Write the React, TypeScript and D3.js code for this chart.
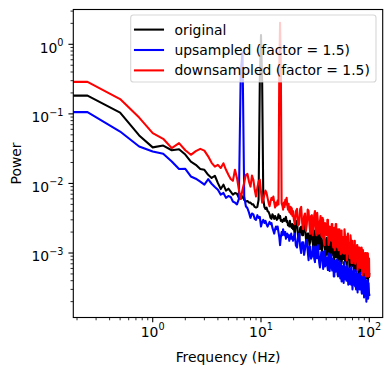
import React from "react";
import * as d3 from "d3";

// Frequency grid (Hz)
const FREQ_LOW = [
  0, 0.25, 0.5, 0.75, 1, 1.25, 1.5, 1.75, 2, 2.25, 2.5, 2.75, 3, 3.25, 3.5, 3.75,
  4, 4.25, 4.5, 4.75, 5, 5.25, 5.5, 5.75, 6, 6.25, 6.5, 6.75, 7, 7.25, 7.5, 7.75,
  8, 8.25, 8.5, 8.75, 9, 9.25, 9.5, 9.75, 10, 10.25, 10.5, 10.75, 11, 11.25, 11.5, 11.75,
  12, 12.25, 12.5, 12.75, 13, 13.25, 13.5, 13.75, 14, 14.25, 14.5, 14.75, 15, 15.25, 15.5, 15.75,
  16, 16.25, 16.5, 16.75, 17, 17.25, 17.5, 17.75, 18, 18.25, 18.5, 18.75, 19, 19.25, 19.5, 19.75, 20,
];
const FREQ_HIGH = [
  21, 22, 23, 24, 25, 26, 27, 28, 29, 30, 31, 32, 33, 34, 35, 36, 37, 38, 39, 40,
  41, 42, 43, 44, 45, 46, 47, 48, 49, 50, 51, 52, 53, 54, 55, 56, 57, 58, 59, 60,
  61, 62, 63, 64, 65, 66, 67, 68, 69, 70, 71, 72, 73, 74, 75, 76, 77, 78, 79, 80,
  81, 82, 83, 84, 85, 86, 87, 88, 89, 90, 91, 92, 93, 94, 95, 96, 97, 98, 99, 100,
];
const FREQ_HALF = [
  20.5, 21.5, 22.5, 23.5, 24.5, 25.5, 26.5, 27.5, 28.5, 29.5, 30.5, 31.5, 32.5, 33.5, 34.5, 35.5, 36.5, 37.5, 38.5, 39.5,
  40.5, 41.5, 42.5, 43.5, 44.5, 45.5, 46.5, 47.5, 48.5, 49.5, 50.5, 51.5, 52.5, 53.5, 54.5, 55.5, 56.5, 57.5, 58.5, 59.5,
  60.5, 61.5, 62.5, 63.5, 64.5, 65.5, 66.5, 67.5, 68.5, 69.5, 70.5, 71.5, 72.5, 73.5, 74.5, 75.5, 76.5, 77.5, 78.5, 79.5,
  80.5, 81.5, 82.5, 83.5, 84.5, 85.5, 86.5, 87.5, 88.5, 89.5, 90.5, 91.5, 92.5, 93.5, 94.5, 95.5, 96.5, 97.5, 98.5, 99.5,
];

// original
const ORIGINAL_LOW = [
  0.183, 0.183, 0.104, 0.049, 0.033, 0.035, 0.030, 0.031, 0.026, 0.0206, 0.0185, 0.0161, 0.0157, 0.0133, 0.0120, 0.0129,
  0.0101, 0.0083, 0.0096, 0.0079, 0.0084, 0.0076, 0.0069, 0.0073, 0.0071, 0.0062, 0.0060, 0.0065, 0.0058, 0.0055, 0.0056, 0.0053,
  0.0053, 0.0050, 0.0050, 0.0046, 0.0045, 0.0046, 0.0058, 0.30, 1.36, 0.30, 0.0060, 0.0046, 0.0043, 0.0045, 0.0040, 0.0039,
  0.0036, 0.0032, 0.0031, 0.0036, 0.0034, 0.0031, 0.0034, 0.0032, 0.0030, 0.0031, 0.0036, 0.0032, 0.0034, 0.0029, 0.0030, 0.0028,
  0.0029, 0.0031, 0.0029, 0.0031, 0.0033, 0.0028, 0.0029, 0.0025, 0.0026, 0.0024, 0.0029, 0.0024, 0.0026, 0.0023, 0.0026, 0.0022, 0.0025,
];
const ORIGINAL_HIGH = [
  0.0027, 0.0017, 0.0023, 0.0018, 0.0025, 0.0016, 0.0019, 0.0013, 0.0020, 0.00145, 0.0021, 0.00124, 0.00152, 0.00186, 0.00114, 0.00156, 0.00124, 0.00175, 0.00111, 0.00134,
  0.00095, 0.00149, 0.00115, 0.00161, 0.00094, 0.00127, 0.00079, 0.00129, 0.00099, 0.00135, 0.00085, 0.00105, 0.00134, 0.00076, 0.0011, 0.00084, 0.00118, 0.00087, 0.00134, 0.00076,
  0.00099, 0.00064, 0.00105, 0.00081, 0.00111, 0.00074, 0.00095, 0.00064, 0.00108, 0.00074, 0.00097, 0.00064, 0.00082, 0.00054, 0.00103, 0.00063, 0.0008, 0.00065, 0.00089, 0.00056,
  0.00069, 0.00088, 0.0005, 0.00073, 0.00055, 0.00077, 0.00057, 0.00081, 0.00049, 0.00063, 0.00044, 0.0007, 0.00051, 0.00064, 0.00044, 0.00059, 0.00045, 0.00062, 0.00046, 0.0005,
];
const ORIGINAL_HALF = [
  0.0018, 0.0029, 0.0015, 0.0024, 0.0018, 0.0026, 0.0014, 0.0019, 0.00145, 0.0021, 0.0011, 0.0018, 0.002, 0.0012, 0.0014, 0.0019, 0.00105, 0.00143, 0.0016, 0.00091,
  0.00165, 0.00106, 0.00134, 0.0009, 0.00165, 0.00104, 0.00131, 0.00078, 0.00139, 0.00087, 0.00112, 0.00143, 0.00078, 0.00122, 0.0009, 0.0007, 0.00127, 0.00082, 0.0011, 0.00076,
  0.00132, 0.0007, 0.00101, 0.00081, 0.00111, 0.00062, 0.00103, 0.00072, 0.00084, 0.00112, 0.00065, 0.00092, 0.00055, 0.00101, 0.00068, 0.00083, 0.00056, 0.0009, 0.0006, 0.00084,
  0.00048, 0.00071, 0.0009, 0.00053, 0.00075, 0.00058, 0.00082, 0.00047, 0.00067, 0.00051, 0.00074, 0.00041, 0.00068, 0.0005, 0.00058, 0.00043, 0.00069, 0.00039, 0.00059, 0.00045,
];

// upsampled (factor = 1.5)
const UPSAMPLED_LOW = [
  0.106, 0.106, 0.0557, 0.034, 0.0288, 0.0267, 0.0207, 0.0161, 0.0162, 0.0126, 0.0117, 0.0106, 0.0096, 0.0115, 0.0099, 0.0089,
  0.0081, 0.0069, 0.0073, 0.0062, 0.0066, 0.0064, 0.0055, 0.0053, 0.0050, 0.0060, 0.40, 0.76, 0.0065, 0.0047, 0.0044, 0.0038,
  0.0032, 0.0037, 0.0036, 0.0031, 0.0030, 0.0035, 0.0032, 0.0033, 0.0024, 0.0028, 0.0030, 0.0027, 0.0029, 0.0026, 0.0024, 0.0026,
  0.0028, 0.0026, 0.0027, 0.0023, 0.0021, 0.0019, 0.0022, 0.0024, 0.0022, 0.0024, 0.0020, 0.0017, 0.0013, 0.0017, 0.0020, 0.0018,
  0.0022, 0.0019, 0.0018, 0.0020, 0.0016, 0.0018, 0.0019, 0.0017, 0.0018, 0.0015, 0.0018, 0.0016, 0.0019, 0.0016, 0.0017, 0.0015, 0.0017,
];
const UPSAMPLED_HIGH = [
  0.00128, 0.00172, 0.00123, 0.00143, 0.00094, 0.00149, 0.00107, 0.00124, 0.00083, 0.00105, 0.00083, 0.00124, 0.00084, 0.00099, 0.00062, 0.00103, 0.0008, 0.00103, 0.00064, 0.00086,
  0.00065, 0.00098, 0.00055, 0.00075, 0.00063, 0.00082, 0.00046, 0.00072, 0.00054, 0.00078, 0.00049, 0.0006, 0.00077, 0.00043, 0.00062, 0.0005, 0.00065, 0.00037, 0.00055, 0.00043,
  0.00063, 0.00044, 0.00055, 0.00035, 0.00052, 0.00039, 0.00059, 0.00035, 0.00046, 0.0003, 0.0005, 0.00038, 0.00045, 0.00033, 0.0005, 0.00034, 0.00041, 0.00027, 0.00044, 0.00034,
  0.00044, 0.0003, 0.00037, 0.00047, 0.00027, 0.0004, 0.0003, 0.00042, 0.00032, 0.00025, 0.00039, 0.00027, 0.00037, 0.0002, 0.00035, 0.00028, 0.00038, 0.00024, 0.00031, 0.00025,
];
const UPSAMPLED_HALF = [
  0.0019, 0.0012, 0.0019, 0.001, 0.00143, 0.00113, 0.00155, 0.00079, 0.00124, 0.00088, 0.00125, 0.00074, 0.001, 0.0013, 0.00072, 0.00079, 0.00103, 0.00059, 0.00107, 0.00068,
  0.00086, 0.00057, 0.00094, 0.00066, 0.00096, 0.00056, 0.00078, 0.00046, 0.00078, 0.00057, 0.00081, 0.00046, 0.00063, 0.0005, 0.00071, 0.00039, 0.00063, 0.00049, 0.00074, 0.00042,
  0.00058, 0.0004, 0.00066, 0.00043, 0.0006, 0.00036, 0.00052, 0.00044, 0.00064, 0.00038, 0.00054, 0.00035, 0.00057, 0.00038, 0.0005, 0.0003, 0.00056, 0.00038, 0.0005, 0.00033,
  0.00043, 0.0003, 0.00052, 0.00034, 0.00043, 0.00026, 0.00046, 0.00033, 0.0004, 0.00023, 0.00045, 0.00028, 0.00041, 0.00025, 0.00036, 0.00028, 0.00041, 0.00022, 0.00037, 0.00025,
];

// downsampled (factor = 1.5)
const DOWNSAMPLED_LOW = [
  0.288, 0.288, 0.163, 0.0885, 0.0529, 0.0438, 0.0322, 0.038, 0.030, 0.0258, 0.0292, 0.0314, 0.0296, 0.0245, 0.0198, 0.0174,
  0.0185, 0.0167, 0.0195, 0.0157, 0.0133, 0.0116, 0.0109, 0.0157, 0.0120, 0.0081, 0.0060, 0.0081, 0.0103, 0.0133, 0.0137, 0.0106,
  0.0090, 0.0130, 0.0113, 0.0081, 0.0065, 0.0087, 0.0106, 0.0113, 0.0076, 0.0053, 0.0058, 0.0069, 0.0079, 0.0073, 0.0062, 0.0053,
  0.0047, 0.0055, 0.0062, 0.0058, 0.0065, 0.0053, 0.0045, 0.0053, 0.0048, 0.0057, 0.0050, 0.45, 2.04, 0.45, 0.0052, 0.0048,
  0.0042, 0.0053, 0.0046, 0.0058, 0.0050, 0.0062, 0.0048, 0.0042, 0.0051, 0.0039, 0.0038, 0.0046, 0.0036, 0.0044, 0.0034, 0.0040, 0.0032,
];
const DOWNSAMPLED_HIGH = [
  0.004, 0.0025, 0.0043, 0.0027, 0.0034, 0.0021, 0.0042, 0.0026, 0.0034, 0.0018, 0.0035, 0.0022, 0.0038, 0.0019, 0.0028, 0.0018, 0.0032, 0.0015, 0.0027, 0.0019,
  0.003, 0.0013, 0.0024, 0.0016, 0.0026, 0.0014, 0.002, 0.0011, 0.0026, 0.0014, 0.002, 0.0011, 0.0022, 0.0014, 0.002, 0.001, 0.0017, 0.0011, 0.0022, 0.001,
  0.0017, 0.00078, 0.0018, 0.0011, 0.0014, 0.00084, 0.0018, 0.00096, 0.0014, 0.00072, 0.0012, 0.00082, 0.0015, 0.0007, 0.0012, 0.00085, 0.0013, 0.00057, 0.0011, 0.00073,
  0.0012, 0.00061, 0.0011, 0.00071, 0.0012, 0.00052, 0.00095, 0.00062, 0.001, 0.00053, 0.00081, 0.00054, 0.001, 0.00046, 0.00083, 0.00054, 0.00099, 0.00046, 0.0007, 0.00047,
];
const DOWNSAMPLED_HALF = [
  0.0026, 0.0043, 0.0026, 0.0046, 0.0022, 0.0037, 0.0026, 0.004, 0.0019, 0.0035, 0.0024, 0.004, 0.0018, 0.0029, 0.002, 0.0034, 0.0017, 0.003, 0.0013, 0.0026,
  0.0018, 0.003, 0.0014, 0.0022, 0.0015, 0.0026, 0.0012, 0.0023, 0.0016, 0.0026, 0.0012, 0.0022, 0.0012, 0.0019, 0.00096, 0.0021, 0.0013, 0.0017, 0.00098, 0.0019,
  0.0011, 0.0017, 0.00085, 0.0019, 0.00098, 0.0013, 0.0011, 0.0016, 0.00072, 0.0015, 0.00088, 0.0013, 0.00077, 0.0015, 0.00075, 0.0012, 0.00085, 0.0013, 0.00062, 0.0012,
  0.00082, 0.0012, 0.00061, 0.001, 0.00067, 0.0011, 0.00048, 0.0011, 0.00058, 0.00084, 0.00064, 0.001, 0.00047, 0.00089, 0.00056, 0.001, 0.00048, 0.00079, 0.00049, 0.00083,
];

function buildPoints(low: number[], high: number[], half: number[]) {
  const pts: [number, number][] = [];
  FREQ_LOW.forEach((f, i) => pts.push([f, low[i]]));
  FREQ_HIGH.forEach((f, i) => pts.push([f, high[i]]));
  FREQ_HALF.forEach((f, i) => pts.push([f, half[i]]));
  return pts.sort((a, b) => a[0] - b[0]);
}

const SERIES = [
  { label: "original", color: "#000000", points: buildPoints(ORIGINAL_LOW, ORIGINAL_HIGH, ORIGINAL_HALF) },
  { label: "upsampled (factor = 1.5)", color: "#0000ff", points: buildPoints(UPSAMPLED_LOW, UPSAMPLED_HIGH, UPSAMPLED_HALF) },
  { label: "downsampled (factor = 1.5)", color: "#ff0000", points: buildPoints(DOWNSAMPLED_LOW, DOWNSAMPLED_HIGH, DOWNSAMPLED_HALF) },
];

const X_LABEL = "Frequency (Hz)";
const Y_LABEL = "Power";

const W = 392;
const H = 375;
const L = 73.3;
const R = 382.7;
const T = 9.5;
const B = 317.5;
const FONT = "DejaVu Sans, Verdana, sans-serif";
const FS = 13.9;

function Pow10({ exp, ...rest }: any) {
  const e = exp < 0 ? "\u2212" + Math.abs(exp) : String(exp);
  return (
    <text {...rest}>
      10
      <tspan dy={-6.5} fontSize={9.7}>{e}</tspan>
    </text>
  );
}

export default function App() {
  const x = d3.scaleLog().domain([0.1848, 133.0]).range([L, R]).clamp(true);
  const y = d3.scaleLog().domain([1.183e-4, 3.164]).range([B, T]);

  const xt = x.ticks();
  const yt = y.ticks();
  const isMajor = (v: number) => Math.abs(Math.log10(v) - Math.round(Math.log10(v))) < 1e-9;

  const line = d3
    .line<[number, number]>()
    .x((d) => (d[0] > 0 ? x(d[0]) : L))
    .y((d) => y(d[1]));

  return (
    <svg width={W} height={H} style={{ display: "block", position: "absolute", left: 0, top: 0 }} fontFamily={FONT}>
      <rect x={0} y={0} width={W} height={H} fill="#fff" />
      <defs>
        <clipPath id="plotclip">
          <rect x={L} y={T} width={R - L} height={B - T} />
        </clipPath>
      </defs>
      <g clipPath="url(#plotclip)">
        {SERIES.map((s) => (
          <path
            key={s.label}
            d={line(s.points) || ""}
            fill="none"
            stroke={s.color}
            strokeWidth={2.08}
            strokeLinejoin="round"
            strokeLinecap="square"
          />
        ))}
      </g>
      <rect x={L} y={T} width={R - L} height={B - T} fill="none" stroke="#000" strokeWidth={1.11} />
      {xt.map((v) => {
        const px = x(v);
        const major = isMajor(v);
        return (
          <g key={"x" + v}>
            <line x1={px} x2={px} y1={B} y2={B + (major ? 4.86 : 2.78)} stroke="#000" strokeWidth={major ? 1.11 : 0.83} />
            {major && (
              <Pow10 exp={Math.round(Math.log10(v))} x={px} y={336.5} textAnchor="middle" fontSize={FS} fill="#000" />
            )}
          </g>
        );
      })}
      {yt.map((v) => {
        const py = y(v);
        const major = isMajor(v);
        return (
          <g key={"y" + v}>
            <line x1={L} x2={L - (major ? 4.86 : 2.78)} y1={py} y2={py} stroke="#000" strokeWidth={major ? 1.11 : 0.83} />
            {major && (
              <Pow10 exp={Math.round(Math.log10(v))} x={63.5} y={py + 8.2} textAnchor="end" fontSize={FS} fill="#000" />
            )}
          </g>
        );
      })}
      <text x={(L + R) / 2} y={362} textAnchor="middle" fontSize={FS} fill="#000">
        {X_LABEL}
      </text>
      <text transform={`translate(21,${(T + B) / 2}) rotate(-90)`} textAnchor="middle" fontSize={FS} fill="#000">
        {Y_LABEL}
      </text>
      <g>
        <rect
          x={130.7}
          y={15}
          width={376 - 130.7}
          height={67}
          rx={2.8}
          fill="#fff"
          fillOpacity={0.8}
          stroke="#ccc"
          strokeOpacity={0.8}
          strokeWidth={1.11}
        />
        {SERIES.map((s, i) => {
          const cy = 29.6 + i * 20.4;
          return (
            <g key={"lg" + s.label}>
              <line x1={135} x2={163} y1={cy} y2={cy} stroke={s.color} strokeWidth={2.08} strokeLinecap="square" />
              <text x={174.5} y={cy + 5} fontSize={FS} fill="#000">
                {s.label}
              </text>
            </g>
          );
        })}
      </g>
    </svg>
  );
}
